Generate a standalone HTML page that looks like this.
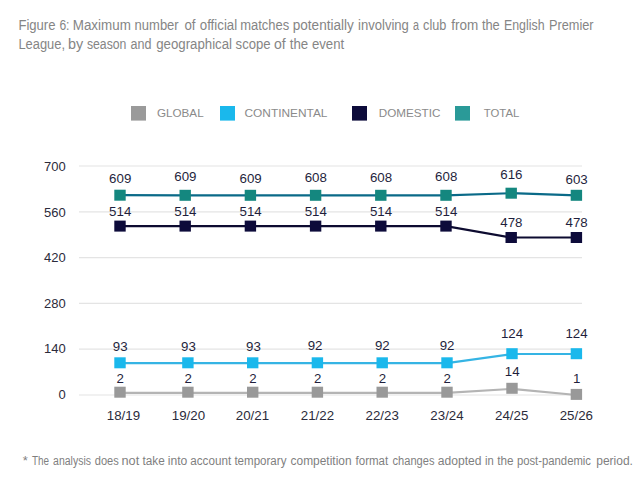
<!DOCTYPE html>
<html><head><meta charset="utf-8"><style>
html,body{margin:0;padding:0;background:#fff;width:640px;height:480px;overflow:hidden}
body{position:relative;font-family:"Liberation Sans",sans-serif}
svg{position:absolute;left:0;top:0}
</style></head><body>
<svg width="640" height="480" viewBox="0 0 640 480" font-family="&quot;Liberation Sans&quot;, sans-serif">

<text x="18.4" y="29.8" font-size="14.0" fill="#858585" textLength="37.09" lengthAdjust="spacingAndGlyphs">Figure</text>
<text x="59.4" y="29.8" font-size="14.0" fill="#858585" textLength="10.09" lengthAdjust="spacingAndGlyphs">6:</text>
<text x="72.75" y="29.8" font-size="14.0" fill="#858585" textLength="58.07" lengthAdjust="spacingAndGlyphs">Maximum</text>
<text x="134.6" y="29.8" font-size="14.0" fill="#858585" textLength="44.07" lengthAdjust="spacingAndGlyphs">number</text>
<text x="184.4" y="29.8" font-size="14.0" fill="#858585" textLength="11.09" lengthAdjust="spacingAndGlyphs">of</text>
<text x="199.75" y="29.8" font-size="14.0" fill="#858585" textLength="37.44" lengthAdjust="spacingAndGlyphs">official</text>
<text x="240.25" y="29.8" font-size="14.0" fill="#858585" textLength="48.92" lengthAdjust="spacingAndGlyphs">matches</text>
<text x="292.75" y="29.8" font-size="14.0" fill="#858585" textLength="61.05" lengthAdjust="spacingAndGlyphs">potentially</text>
<text x="358.0" y="29.8" font-size="14.0" fill="#858585" textLength="50.88" lengthAdjust="spacingAndGlyphs">involving</text>
<text x="413.1" y="29.8" font-size="14.0" fill="#858585" textLength="6.0" lengthAdjust="spacingAndGlyphs">a</text>
<text x="423.1" y="29.8" font-size="14.0" fill="#858585" textLength="23.29" lengthAdjust="spacingAndGlyphs">club</text>
<text x="451.25" y="29.8" font-size="14.0" fill="#858585" textLength="27.0" lengthAdjust="spacingAndGlyphs">from</text>
<text x="481.9" y="29.8" font-size="14.0" fill="#858585" textLength="17.87" lengthAdjust="spacingAndGlyphs">the</text>
<text x="504.0" y="29.8" font-size="14.0" fill="#858585" textLength="40.52" lengthAdjust="spacingAndGlyphs">English</text>
<text x="549.0" y="29.8" font-size="14.0" fill="#858585" textLength="44.62" lengthAdjust="spacingAndGlyphs">Premier</text>
<text x="18.4" y="48.7" font-size="14.0" fill="#858585" textLength="46.61" lengthAdjust="spacingAndGlyphs">League,</text>
<text x="68.0" y="48.7" font-size="14.0" fill="#858585" textLength="15.2" lengthAdjust="spacingAndGlyphs">by</text>
<text x="86.9" y="48.7" font-size="14.0" fill="#858585" textLength="39.56" lengthAdjust="spacingAndGlyphs">season</text>
<text x="130.6" y="48.7" font-size="14.0" fill="#858585" textLength="20.96" lengthAdjust="spacingAndGlyphs">and</text>
<text x="156.25" y="48.7" font-size="14.0" fill="#858585" textLength="75.77" lengthAdjust="spacingAndGlyphs">geographical</text>
<text x="235.6" y="48.7" font-size="14.0" fill="#858585" textLength="34.96" lengthAdjust="spacingAndGlyphs">scope</text>
<text x="274.0" y="48.7" font-size="14.0" fill="#858585" textLength="11.69" lengthAdjust="spacingAndGlyphs">of</text>
<text x="289.75" y="48.7" font-size="14.0" fill="#858585" textLength="18.47" lengthAdjust="spacingAndGlyphs">the</text>
<text x="311.9" y="48.7" font-size="14.0" fill="#858585" textLength="32.25" lengthAdjust="spacingAndGlyphs">event</text>
<rect x="131" y="106" width="15" height="14.6" fill="#9a9a9a"/>
<rect x="220" y="106" width="15" height="14.6" fill="#1ab8ec"/>
<rect x="352" y="106" width="15" height="14.6" fill="#0d0b3a"/>
<rect x="455" y="106" width="15" height="14.6" fill="#2a9a98"/>
<text x="157.0" y="117.4" font-size="11.8" fill="#8a8a8a" textLength="46.62" lengthAdjust="spacingAndGlyphs">GLOBAL</text>
<text x="244.5" y="117.4" font-size="11.8" fill="#8a8a8a" textLength="82.97" lengthAdjust="spacingAndGlyphs">CONTINENTAL</text>
<text x="378.7" y="117.4" font-size="11.8" fill="#8a8a8a" textLength="61.67" lengthAdjust="spacingAndGlyphs">DOMESTIC</text>
<text x="483.75" y="117.4" font-size="11.8" fill="#8a8a8a" textLength="35.54" lengthAdjust="spacingAndGlyphs">TOTAL</text>
<text x="22.75" y="465.0" font-size="12.0" fill="#7f7f7f" textLength="5.07" lengthAdjust="spacingAndGlyphs">*</text>
<text x="31.9" y="465.0" font-size="12.0" fill="#7f7f7f" textLength="17.09" lengthAdjust="spacingAndGlyphs">The</text>
<text x="53.1" y="465.0" font-size="12.0" fill="#7f7f7f" textLength="37.96" lengthAdjust="spacingAndGlyphs">analysis</text>
<text x="94.75" y="465.0" font-size="12.0" fill="#7f7f7f" textLength="24.03" lengthAdjust="spacingAndGlyphs">does</text>
<text x="121.5" y="465.0" font-size="12.0" fill="#7f7f7f" textLength="17.69" lengthAdjust="spacingAndGlyphs">not</text>
<text x="142.5" y="465.0" font-size="12.0" fill="#7f7f7f" textLength="22.29" lengthAdjust="spacingAndGlyphs">take</text>
<text x="167.75" y="465.0" font-size="12.0" fill="#7f7f7f" textLength="19.56" lengthAdjust="spacingAndGlyphs">into</text>
<text x="190.3" y="465.0" font-size="12.0" fill="#7f7f7f" textLength="40.83" lengthAdjust="spacingAndGlyphs">account</text>
<text x="234.4" y="465.0" font-size="12.0" fill="#7f7f7f" textLength="52.03" lengthAdjust="spacingAndGlyphs">temporary</text>
<text x="290.6" y="465.0" font-size="12.0" fill="#7f7f7f" textLength="60.97" lengthAdjust="spacingAndGlyphs">competition</text>
<text x="355.6" y="465.0" font-size="12.0" fill="#7f7f7f" textLength="32.62" lengthAdjust="spacingAndGlyphs">format</text>
<text x="392.5" y="465.0" font-size="12.0" fill="#7f7f7f" textLength="41.97" lengthAdjust="spacingAndGlyphs">changes</text>
<text x="437.75" y="465.0" font-size="12.0" fill="#7f7f7f" textLength="43.79" lengthAdjust="spacingAndGlyphs">adopted</text>
<text x="485.0" y="465.0" font-size="12.0" fill="#7f7f7f" textLength="8.74" lengthAdjust="spacingAndGlyphs">in</text>
<text x="497.2" y="465.0" font-size="12.0" fill="#7f7f7f" textLength="16.29" lengthAdjust="spacingAndGlyphs">the</text>
<text x="516.9" y="465.0" font-size="12.0" fill="#7f7f7f" textLength="74.12" lengthAdjust="spacingAndGlyphs">post-pandemic</text>
<text x="596.25" y="465.0" font-size="12.0" fill="#7f7f7f" textLength="36.7" lengthAdjust="spacingAndGlyphs">period.</text>
<line x1="79" y1="166.0" x2="582" y2="166.0" stroke="#e4e4e4" stroke-width="1.2"/>
<text x="65.8" y="171.2" font-size="13" text-anchor="end" fill="#2b2b3b">700</text>
<line x1="79" y1="211.8" x2="582" y2="211.8" stroke="#e4e4e4" stroke-width="1.2"/>
<text x="65.8" y="216.7" font-size="13" text-anchor="end" fill="#2b2b3b">560</text>
<line x1="79" y1="257.6" x2="582" y2="257.6" stroke="#e4e4e4" stroke-width="1.2"/>
<text x="65.8" y="262.2" font-size="13" text-anchor="end" fill="#2b2b3b">420</text>
<line x1="79" y1="303.4" x2="582" y2="303.4" stroke="#e4e4e4" stroke-width="1.2"/>
<text x="65.8" y="307.8" font-size="13" text-anchor="end" fill="#2b2b3b">280</text>
<line x1="79" y1="349.2" x2="582" y2="349.2" stroke="#e4e4e4" stroke-width="1.2"/>
<text x="65.8" y="353.3" font-size="13" text-anchor="end" fill="#2b2b3b">140</text>
<line x1="79" y1="395.0" x2="582" y2="395.0" stroke="#e4e4e4" stroke-width="1.2"/>
<text x="65.8" y="398.8" font-size="13" text-anchor="end" fill="#2b2b3b">0</text>
<polyline points="120.0,195.2 185.2,195.3 250.4,195.3 315.6,195.3 380.8,195.3 446.0,195.3 511.2,193.2 576.4,195.3" fill="none" stroke="#0a6a88" stroke-width="2.2"/>
<rect x="114.3" y="189.7" width="11.4" height="11" fill="#14877f"/>
<rect x="179.5" y="189.8" width="11.4" height="11" fill="#14877f"/>
<rect x="244.7" y="189.8" width="11.4" height="11" fill="#14877f"/>
<rect x="309.9" y="189.8" width="11.4" height="11" fill="#14877f"/>
<rect x="375.1" y="189.8" width="11.4" height="11" fill="#14877f"/>
<rect x="440.3" y="189.8" width="11.4" height="11" fill="#14877f"/>
<rect x="505.5" y="187.7" width="11.4" height="11" fill="#14877f"/>
<rect x="570.7" y="189.8" width="11.4" height="11" fill="#14877f"/>
<text x="120.2" y="183.0" font-size="13.3" text-anchor="middle" fill="#1f1f3d">609</text>
<text x="185.4" y="181.3" font-size="13.3" text-anchor="middle" fill="#1f1f3d">609</text>
<text x="250.6" y="182.8" font-size="13.3" text-anchor="middle" fill="#1f1f3d">609</text>
<text x="315.8" y="181.6" font-size="13.3" text-anchor="middle" fill="#1f1f3d">608</text>
<text x="381.0" y="181.5" font-size="13.3" text-anchor="middle" fill="#1f1f3d">608</text>
<text x="446.2" y="181.3" font-size="13.3" text-anchor="middle" fill="#1f1f3d">608</text>
<text x="511.4" y="179.1" font-size="13.3" text-anchor="middle" fill="#1f1f3d">616</text>
<text x="576.6" y="184.0" font-size="13.3" text-anchor="middle" fill="#1f1f3d">603</text>
<polyline points="120.0,226.1 185.2,226.1 250.4,226.1 315.6,226.1 380.8,226.1 446.0,226.1 511.2,237.5 576.4,237.5" fill="none" stroke="#0d0b30" stroke-width="2.2"/>
<rect x="114.3" y="220.6" width="11.4" height="11" fill="#0d0b3a"/>
<rect x="179.5" y="220.6" width="11.4" height="11" fill="#0d0b3a"/>
<rect x="244.7" y="220.6" width="11.4" height="11" fill="#0d0b3a"/>
<rect x="309.9" y="220.6" width="11.4" height="11" fill="#0d0b3a"/>
<rect x="375.1" y="220.6" width="11.4" height="11" fill="#0d0b3a"/>
<rect x="440.3" y="220.6" width="11.4" height="11" fill="#0d0b3a"/>
<rect x="505.5" y="232.0" width="11.4" height="11" fill="#0d0b3a"/>
<rect x="570.7" y="232.0" width="11.4" height="11" fill="#0d0b3a"/>
<text x="120.2" y="216.0" font-size="13.3" text-anchor="middle" fill="#1f1f3d">514</text>
<text x="185.4" y="216.0" font-size="13.3" text-anchor="middle" fill="#1f1f3d">514</text>
<text x="250.6" y="216.0" font-size="13.3" text-anchor="middle" fill="#1f1f3d">514</text>
<text x="315.8" y="216.0" font-size="13.3" text-anchor="middle" fill="#1f1f3d">514</text>
<text x="381.0" y="216.0" font-size="13.3" text-anchor="middle" fill="#1f1f3d">514</text>
<text x="446.2" y="216.0" font-size="13.3" text-anchor="middle" fill="#1f1f3d">514</text>
<text x="511.4" y="227.0" font-size="13.3" text-anchor="middle" fill="#1f1f3d">478</text>
<text x="576.6" y="227.0" font-size="13.3" text-anchor="middle" fill="#1f1f3d">478</text>
<polyline points="120.0,363.1 187.9,363.1 252.7,363.1 317.4,363.1 382.2,363.1 447.0,363.1 512.0,354.0 576.4,354.0" fill="none" stroke="#35b4e4" stroke-width="2.2"/>
<rect x="114.3" y="357.3" width="11.4" height="11" fill="#1ab8ec"/>
<rect x="182.2" y="357.3" width="11.4" height="11" fill="#1ab8ec"/>
<rect x="247.0" y="357.3" width="11.4" height="11" fill="#1ab8ec"/>
<rect x="311.7" y="357.3" width="11.4" height="11" fill="#1ab8ec"/>
<rect x="376.5" y="357.3" width="11.4" height="11" fill="#1ab8ec"/>
<rect x="441.3" y="357.3" width="11.4" height="11" fill="#1ab8ec"/>
<rect x="506.3" y="348.2" width="11.4" height="11" fill="#1ab8ec"/>
<rect x="570.7" y="348.2" width="11.4" height="11" fill="#1ab8ec"/>
<text x="120.2" y="350.9" font-size="13.3" text-anchor="middle" fill="#1f1f3d">93</text>
<text x="188.4" y="350.9" font-size="13.3" text-anchor="middle" fill="#1f1f3d">93</text>
<text x="253.4" y="350.9" font-size="13.3" text-anchor="middle" fill="#1f1f3d">93</text>
<text x="315.1" y="350.2" font-size="13.3" text-anchor="middle" fill="#1f1f3d">92</text>
<text x="382.3" y="350.2" font-size="13.3" text-anchor="middle" fill="#1f1f3d">92</text>
<text x="447.1" y="350.2" font-size="13.3" text-anchor="middle" fill="#1f1f3d">92</text>
<text x="512.0" y="338.4" font-size="13.3" text-anchor="middle" fill="#1f1f3d">124</text>
<text x="576.5" y="338.4" font-size="13.3" text-anchor="middle" fill="#1f1f3d">124</text>
<polyline points="120.0,392.8 187.9,392.8 252.7,392.8 317.4,392.8 382.2,392.8 447.0,392.8 512.0,388.9 576.4,395.0" fill="none" stroke="#b4b4b4" stroke-width="2.2"/>
<rect x="114.3" y="386.7" width="11.4" height="11" fill="#999999"/>
<rect x="182.2" y="386.7" width="11.4" height="11" fill="#999999"/>
<rect x="247.0" y="386.7" width="11.4" height="11" fill="#999999"/>
<rect x="311.7" y="386.7" width="11.4" height="11" fill="#999999"/>
<rect x="376.5" y="386.7" width="11.4" height="11" fill="#999999"/>
<rect x="441.3" y="386.7" width="11.4" height="11" fill="#999999"/>
<rect x="506.3" y="382.8" width="11.4" height="11" fill="#999999"/>
<rect x="570.7" y="388.9" width="11.4" height="11" fill="#999999"/>
<text x="120.2" y="382.8" font-size="13.3" text-anchor="middle" fill="#1f1f3d">2</text>
<text x="188.1" y="382.8" font-size="13.3" text-anchor="middle" fill="#1f1f3d">2</text>
<text x="252.9" y="382.8" font-size="13.3" text-anchor="middle" fill="#1f1f3d">2</text>
<text x="317.6" y="382.8" font-size="13.3" text-anchor="middle" fill="#1f1f3d">2</text>
<text x="382.4" y="382.8" font-size="13.3" text-anchor="middle" fill="#1f1f3d">2</text>
<text x="447.2" y="382.8" font-size="13.3" text-anchor="middle" fill="#1f1f3d">2</text>
<text x="512.2" y="375.9" font-size="13.3" text-anchor="middle" fill="#1f1f3d">14</text>
<text x="576.6" y="383.1" font-size="13.3" text-anchor="middle" fill="#1f1f3d">1</text>
<text x="123.4" y="419.8" font-size="13.3" text-anchor="middle" fill="#2b2b3b">18/19</text>
<text x="188.4" y="419.8" font-size="13.3" text-anchor="middle" fill="#2b2b3b">19/20</text>
<text x="252.4" y="419.8" font-size="13.3" text-anchor="middle" fill="#2b2b3b">20/21</text>
<text x="317.4" y="419.8" font-size="13.3" text-anchor="middle" fill="#2b2b3b">21/22</text>
<text x="382.2" y="419.8" font-size="13.3" text-anchor="middle" fill="#2b2b3b">22/23</text>
<text x="447.0" y="419.8" font-size="13.3" text-anchor="middle" fill="#2b2b3b">23/24</text>
<text x="511.7" y="419.8" font-size="13.3" text-anchor="middle" fill="#2b2b3b">24/25</text>
<text x="576.3" y="419.8" font-size="13.3" text-anchor="middle" fill="#2b2b3b">25/26</text>
</svg></body></html>
